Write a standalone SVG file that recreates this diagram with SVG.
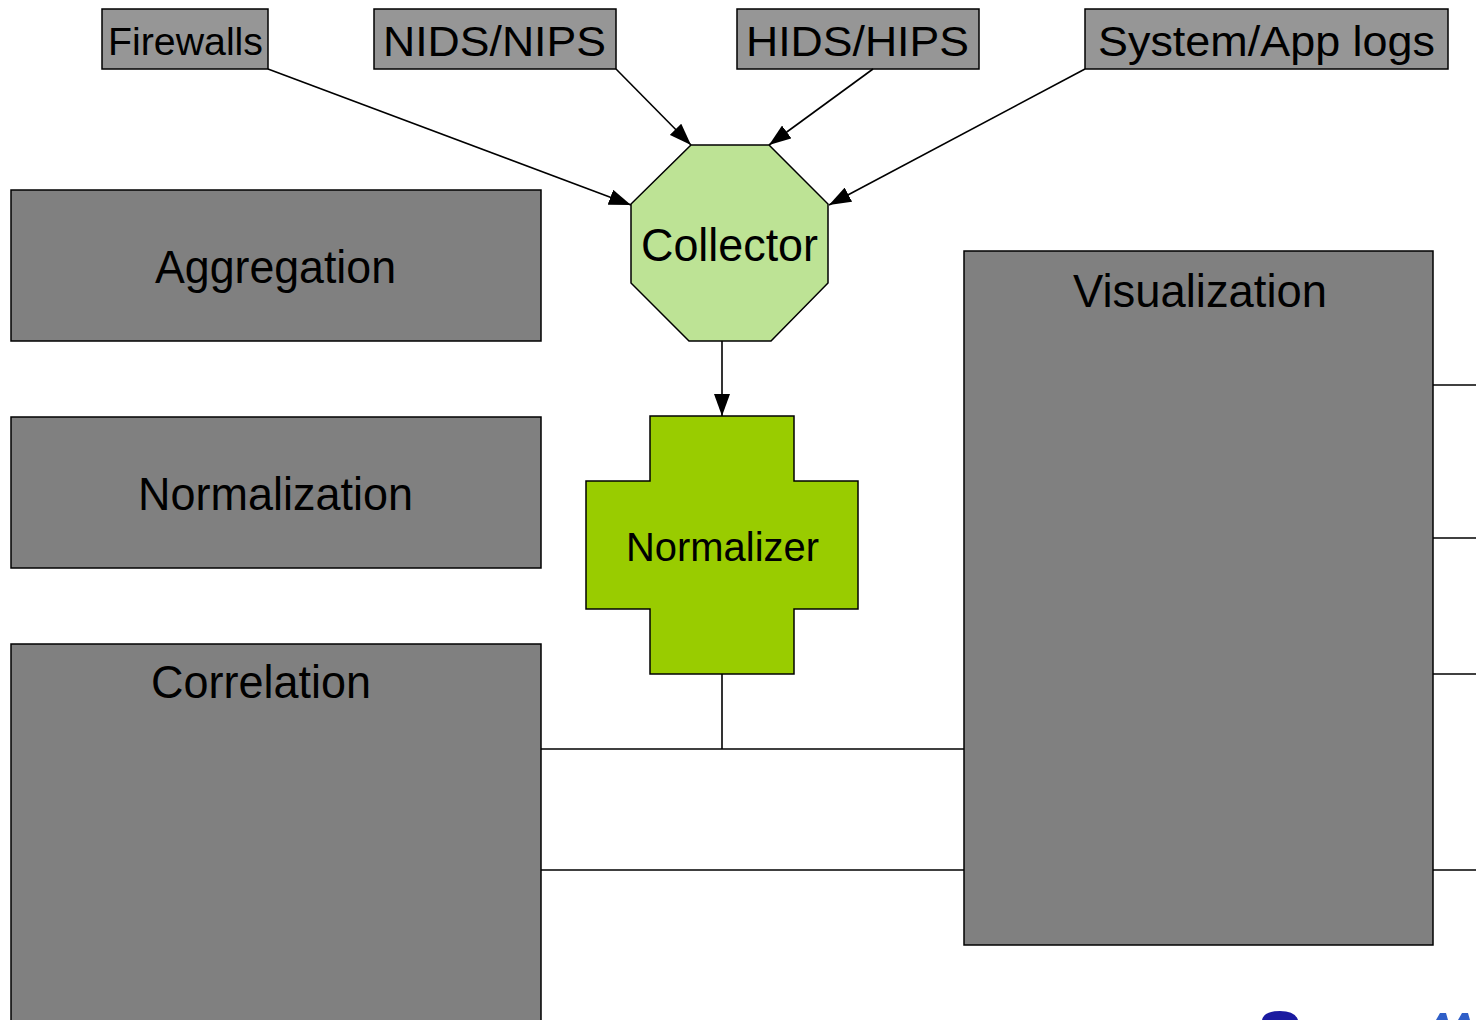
<svg xmlns="http://www.w3.org/2000/svg" width="1476" height="1020" viewBox="0 0 1476 1020">
<style>
  .src rect { fill: #969696; stroke: #000; stroke-width: 1.5; }
  .big rect { fill: #808080; stroke: #000; stroke-width: 1.5; }
  text { font-family: "Liberation Sans", Arial, sans-serif; fill: #000; }
  .conn line, .conn path { stroke: #000; stroke-width: 1.6; fill: none; }
</style>
<defs>
  <marker id="arr" viewBox="0 0 22 16" refX="22" refY="8" markerWidth="22" markerHeight="16" markerUnits="userSpaceOnUse" orient="auto">
    <path d="M0,0 L22,8 L0,16 Z" fill="#000"/>
  </marker>
</defs>
<rect width="1476" height="1020" fill="#fff"/>

<g id="firewalls" class="src">
  <rect x="102" y="9" width="166" height="60"/>
  <text x="108" y="55" font-size="38" textLength="155" lengthAdjust="spacingAndGlyphs">Firewalls</text>
</g>
<g id="nids" class="src">
  <rect x="374" y="9" width="242" height="60"/>
  <text x="383" y="56" font-size="42" textLength="223" lengthAdjust="spacingAndGlyphs">NIDS/NIPS</text>
</g>
<g id="hids" class="src">
  <rect x="737" y="9" width="242" height="60"/>
  <text x="746" y="56" font-size="42" textLength="223" lengthAdjust="spacingAndGlyphs">HIDS/HIPS</text>
</g>
<g id="syslogs" class="src">
  <rect x="1085" y="9" width="363" height="60"/>
  <text x="1098" y="56" font-size="42" textLength="337" lengthAdjust="spacingAndGlyphs">System/App logs</text>
</g>

<g id="aggregation" class="big">
  <rect x="11" y="190" width="530" height="151"/>
  <text x="155" y="283" font-size="46" textLength="241" lengthAdjust="spacingAndGlyphs">Aggregation</text>
</g>
<g id="normalization" class="big">
  <rect x="11" y="417" width="530" height="151"/>
  <text x="138" y="510" font-size="46" textLength="275" lengthAdjust="spacingAndGlyphs">Normalization</text>
</g>
<g id="correlation" class="big">
  <rect x="11" y="644" width="530" height="400"/>
  <text x="151" y="698" font-size="46" textLength="220" lengthAdjust="spacingAndGlyphs">Correlation</text>
</g>
<g id="visualization" class="big">
  <rect x="964" y="251" width="469" height="694"/>
  <text x="1073" y="307" font-size="46" textLength="254" lengthAdjust="spacingAndGlyphs">Visualization</text>
</g>

<g id="collector">
  <polygon points="691,145 769,145 828,204 828,283 771,341 689,341 631,283 631,204" fill="#bde395" stroke="#000" stroke-width="1.5"/>
  <text x="641" y="261" font-size="46" textLength="177" lengthAdjust="spacingAndGlyphs">Collector</text>
</g>
<g id="normalizer">
  <polygon points="650,416 794,416 794,481 858,481 858,609 794,609 794,674 650,674 650,609 586,609 586,481 650,481" fill="#99cc00" stroke="#000" stroke-width="1.5"/>
  <text x="626" y="561" font-size="41" textLength="193" lengthAdjust="spacingAndGlyphs">Normalizer</text>
</g>

<g id="connectors" class="conn">
  <line x1="268" y1="69" x2="631" y2="205" marker-end="url(#arr)"/>
  <line x1="616" y1="69" x2="691" y2="145" marker-end="url(#arr)"/>
  <line x1="873" y1="69" x2="769" y2="145" marker-end="url(#arr)"/>
  <line x1="1085" y1="69" x2="829" y2="205" marker-end="url(#arr)"/>
  <line x1="722" y1="341" x2="722" y2="416" marker-end="url(#arr)"/>
  <line x1="722" y1="674" x2="722" y2="749"/>
  <line x1="541" y1="749" x2="964" y2="749"/>
  <line x1="541" y1="870" x2="964" y2="870"/>
  <line x1="1433" y1="385" x2="1476" y2="385"/>
  <line x1="1433" y1="538" x2="1476" y2="538"/>
  <line x1="1433" y1="674" x2="1476" y2="674"/>
  <line x1="1433" y1="870" x2="1476" y2="870"/>
</g>

<g id="logo-fragment">
  <path d="M1262,1020 Q1264,1011 1280,1011 Q1295,1011 1298,1020 Z" fill="#1a1aa0"/>
  <path d="M1436,1020 L1440,1013 L1446,1013 L1448,1020 Z M1458,1020 L1462,1013 L1468,1013 L1470,1020 Z" fill="#2f5fc8"/>
</g>
</svg>
